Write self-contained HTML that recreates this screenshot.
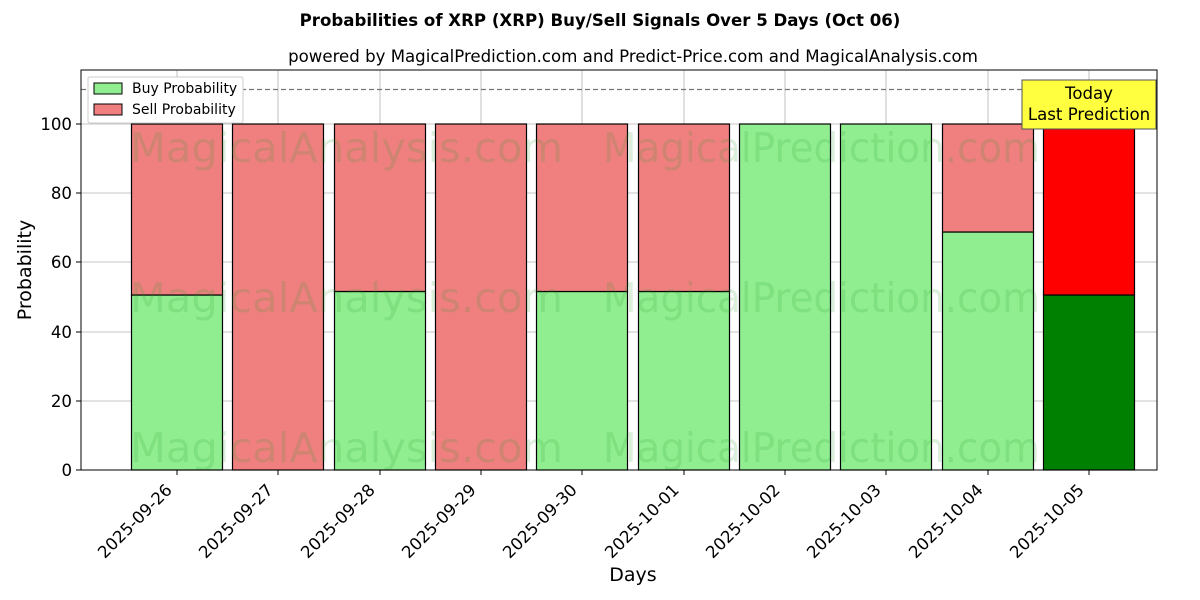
<!DOCTYPE html>
<html><head><meta charset="utf-8"><style>body{margin:0;background:#fff}svg{display:block}text{font-family:"DejaVu Sans","Liberation Sans",sans-serif}</style></head><body>
<svg width="1200" height="600" xmlns="http://www.w3.org/2000/svg">
<rect width="1200" height="600" fill="#fff"/>
<text x="600" y="26" font-size="16.6" font-weight="bold" text-anchor="middle">Probabilities of XRP (XRP) Buy/Sell Signals Over 5 Days (Oct 06)</text>
<text x="633" y="62" font-size="16.6" text-anchor="middle">powered by MagicalPrediction.com and Predict-Price.com and MagicalAnalysis.com</text>
<g stroke="#b0b0b0" stroke-width="0.8">
<line x1="177" y1="70" x2="177" y2="470"/><line x1="278" y1="70" x2="278" y2="470"/><line x1="380" y1="70" x2="380" y2="470"/><line x1="481" y1="70" x2="481" y2="470"/><line x1="582" y1="70" x2="582" y2="470"/><line x1="684" y1="70" x2="684" y2="470"/><line x1="785" y1="70" x2="785" y2="470"/><line x1="886" y1="70" x2="886" y2="470"/><line x1="988" y1="70" x2="988" y2="470"/><line x1="1089" y1="70" x2="1089" y2="470"/>
<line x1="81" y1="401" x2="1157" y2="401"/><line x1="81" y1="332" x2="1157" y2="332"/><line x1="81" y1="262" x2="1157" y2="262"/><line x1="81" y1="193" x2="1157" y2="193"/><line x1="81" y1="124" x2="1157" y2="124"/>
</g>
<g stroke="#000" stroke-width="1.2">
<rect x="131.5" y="295" width="91" height="175" fill="#90ee90"/><rect x="131.5" y="124" width="91" height="171" fill="#f08080"/>
<rect x="232.5" y="124" width="91" height="346" fill="#f08080"/>
<rect x="334.5" y="291.5" width="91" height="178.5" fill="#90ee90"/><rect x="334.5" y="124" width="91" height="167.5" fill="#f08080"/>
<rect x="435.5" y="124" width="91" height="346" fill="#f08080"/>
<rect x="536.5" y="291.5" width="91" height="178.5" fill="#90ee90"/><rect x="536.5" y="124" width="91" height="167.5" fill="#f08080"/>
<rect x="638.5" y="291.5" width="91" height="178.5" fill="#90ee90"/><rect x="638.5" y="124" width="91" height="167.5" fill="#f08080"/>
<rect x="739.5" y="124" width="91" height="346" fill="#90ee90"/>
<rect x="840.5" y="124" width="91" height="346" fill="#90ee90"/>
<rect x="942.5" y="232" width="91" height="238" fill="#90ee90"/><rect x="942.5" y="124" width="91" height="108" fill="#f08080"/>
<rect x="1043.5" y="295" width="91" height="175" fill="#008000"/><rect x="1043.5" y="124" width="91" height="171" fill="#ff0000"/>
</g>
<g font-size="41" fill="#2a9a2a" opacity="0.16">
<text x="130" y="162" textLength="433" lengthAdjust="spacingAndGlyphs">MagicalAnalysis.com</text><text x="603" y="162" textLength="437" lengthAdjust="spacingAndGlyphs">MagicalPrediction.com</text>
<text x="130" y="312" textLength="433" lengthAdjust="spacingAndGlyphs">MagicalAnalysis.com</text><text x="603" y="312" textLength="437" lengthAdjust="spacingAndGlyphs">MagicalPrediction.com</text>
<text x="130" y="462" textLength="433" lengthAdjust="spacingAndGlyphs">MagicalAnalysis.com</text><text x="603" y="462" textLength="437" lengthAdjust="spacingAndGlyphs">MagicalPrediction.com</text>
</g>
<line x1="81" y1="89.5" x2="1157" y2="89.5" stroke="#777" stroke-width="1.2" stroke-dasharray="5,3"/>
<rect x="81" y="70" width="1076" height="400" fill="none" stroke="#000" stroke-width="1"/>
<rect x="1022" y="80" width="134" height="49" fill="#ffff40" stroke="#555" stroke-width="1"/>
<text x="1089" y="99" font-size="16.6" text-anchor="middle">Today</text>
<text x="1089" y="120" font-size="16.6" text-anchor="middle">Last Prediction</text>
<rect x="88" y="77" width="155" height="46" fill="#fff" stroke="#ccc" rx="2"/>
<rect x="94" y="83" width="28" height="11" fill="#90ee90" stroke="#000"/>
<text x="132" y="93" font-size="14">Buy Probability</text>
<rect x="94" y="104" width="28" height="11" fill="#f08080" stroke="#000"/>
<text x="132" y="114" font-size="14">Sell Probability</text>
<g font-size="16.6" text-anchor="end">
<text x="72" y="476">0</text><text x="72" y="407">20</text><text x="72" y="338">40</text><text x="72" y="268">60</text><text x="72" y="199">80</text><text x="72" y="130">100</text>
</g>
<g stroke="#000"><line x1="76" y1="470" x2="81" y2="470"/><line x1="76" y1="401" x2="81" y2="401"/><line x1="76" y1="332" x2="81" y2="332"/><line x1="76" y1="262" x2="81" y2="262"/><line x1="76" y1="193" x2="81" y2="193"/><line x1="76" y1="124" x2="81" y2="124"/>
<line x1="177" y1="470" x2="177" y2="475"/><line x1="278" y1="470" x2="278" y2="475"/><line x1="380" y1="470" x2="380" y2="475"/><line x1="481" y1="470" x2="481" y2="475"/><line x1="582" y1="470" x2="582" y2="475"/><line x1="684" y1="470" x2="684" y2="475"/><line x1="785" y1="470" x2="785" y2="475"/><line x1="886" y1="470" x2="886" y2="475"/><line x1="988" y1="470" x2="988" y2="475"/><line x1="1089" y1="470" x2="1089" y2="475"/></g>
<g font-size="16.6" text-anchor="end">
<text transform="translate(173,491) rotate(-45)">2025-09-26</text>
<text transform="translate(274,491) rotate(-45)">2025-09-27</text>
<text transform="translate(376,491) rotate(-45)">2025-09-28</text>
<text transform="translate(477,491) rotate(-45)">2025-09-29</text>
<text transform="translate(578,491) rotate(-45)">2025-09-30</text>
<text transform="translate(680,491) rotate(-45)">2025-10-01</text>
<text transform="translate(781,491) rotate(-45)">2025-10-02</text>
<text transform="translate(882,491) rotate(-45)">2025-10-03</text>
<text transform="translate(984,491) rotate(-45)">2025-10-04</text>
<text transform="translate(1085,491) rotate(-45)">2025-10-05</text>
</g>
<text x="633" y="581" font-size="19" text-anchor="middle">Days</text>
<text transform="translate(31,270) rotate(-90)" font-size="19" text-anchor="middle">Probability</text>
</svg>
</body></html>
